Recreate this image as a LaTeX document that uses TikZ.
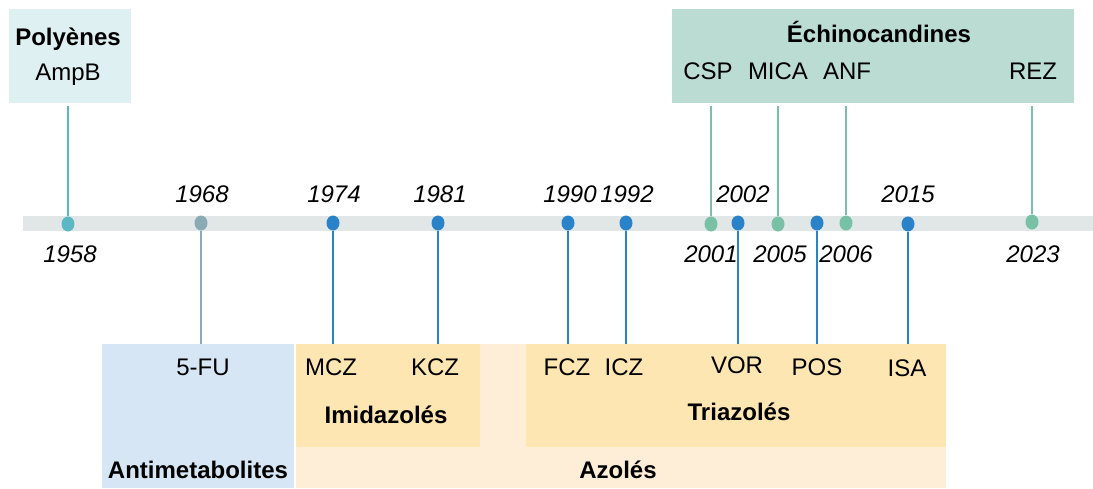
\documentclass[tikz,border=0pt]{standalone}
\usepackage{fontspec}
\setmainfont{Liberation Sans}
\usepackage{xcolor}
\usetikzlibrary{shapes.geometric}

\definecolor{barc}{HTML}{E1E6E6}
\definecolor{polyc}{HTML}{DFF0F2}
\definecolor{echic}{HTML}{BBDCD2}
\definecolor{antic}{HTML}{D6E6F4}
\definecolor{azolc}{HTML}{FEEED8}
\definecolor{subc}{HTML}{FEE6B2}
\definecolor{tealc}{HTML}{5BB8C4}
\definecolor{greyc}{HTML}{8AABB6}
\definecolor{bluec}{HTML}{2A82C8}
\definecolor{greenc}{HTML}{78C0A6}

\begin{document}
\begin{tikzpicture}[
        x=1pt, y=-1pt,
        font=\fontsize{24}{28}\selectfont,
        band/.style={anchor=north west, inner sep=0pt, outer sep=0pt},
        lbl/.style={anchor=base, inner sep=0pt},
        grp/.style={anchor=base, inner sep=0pt, font=\fontsize{24}{28}\selectfont\bfseries},
        yr/.style={anchor=base, inner sep=0pt, font=\fontsize{24}{28}\selectfont\itshape},
        pin/.style={ellipse, minimum width=13, minimum height=15, inner sep=0pt},
        stem/.style={line width=2pt}
    ]
        \useasboundingbox (0,0) rectangle (1093,488);
        % class boxes
        \node[band, fill=polyc, minimum width=122, minimum height=94] (poly) at (9,9) {};
        \node[band, fill=echic, minimum width=402, minimum height=94] (echi) at (672,9) {};
        \node[band, fill=antic, minimum width=192, minimum height=144] (anti) at (102,344) {};
        \node[band, fill=azolc, minimum width=650, minimum height=144] (azol) at (296,344) {};
        \node[band, fill=subc, minimum width=184, minimum height=103] (imid) at (296,344) {};
        \node[band, fill=subc, minimum width=420, minimum height=103] (tria) at (526,344) {};
        \node[band, fill=barc, minimum width=1070, minimum height=15] (bar) at (23,216) {};

        \node[grp] (tpoly) at (68,45) {Polyènes};
        \node[lbl] (ampb) at (68,80) {AmpB};
        \node[grp] (techi) at (879,42) {Échinocandines};
        \node[lbl] (csp) at (708,79) {CSP};
        \node[lbl] (mica) at (778,79) {MICA};
        \node[lbl] (anf) at (847,79) {ANF};
        \node[lbl] (rez) at (1033,79) {REZ};
        \node[lbl] (fu) at (203,375) {5-FU};
        \node[lbl] (mcz) at (331,375) {MCZ};
        \node[lbl] (kcz) at (435,375) {KCZ};
        \node[lbl] (fcz) at (567,375) {FCZ};
        \node[lbl] (icz) at (624,375) {ICZ};
        \node[lbl] (vor) at (737,373) {VOR};
        \node[lbl] (pos) at (817,375) {POS};
        \node[lbl] (isa) at (907,376) {ISA};
        \node[grp] (timid) at (386,423) {Imidazolés};
        \node[grp] (ttria) at (739,420) {Triazolés};
        \node[grp] (tanti) at (198,478) {Antimetabolites};
        \node[grp] (tazol) at (618,478) {Azolés};

        % dots on the time bar
        \node[pin, fill=tealc] (d1958) at (68,224) {};
        \node[pin, fill=greyc] (d1968) at (201,223) {};
        \node[pin, fill=bluec] (d1974) at (333,223) {};
        \node[pin, fill=bluec] (d1981) at (438,223) {};
        \node[pin, fill=bluec] (d1990) at (568,223) {};
        \node[pin, fill=bluec] (d1992) at (626,223) {};
        \node[pin, fill=greenc] (d2001) at (711,224) {};
        \node[pin, fill=bluec] (d2002) at (738,223) {};
        \node[pin, fill=greenc] (d2005) at (778,224) {};
        \node[pin, fill=bluec] (d2006) at (817,223) {};
        \node[pin, fill=greenc] (d2006b) at (846,223) {};
        \node[pin, fill=bluec] (d2015) at (908,224) {};
        \node[pin, fill=greenc] (d2023) at (1032,222) {};

        \node[yr] at (70,262) {1958};
        \node[yr] at (202,202) {1968};
        \node[yr] at (334,202) {1974};
        \node[yr] at (440,202) {1981};
        \node[yr] at (570,202) {1990};
        \node[yr] at (627,202) {1992};
        \node[yr] at (711,262) {2001};
        \node[yr] at (743,202) {2002};
        \node[yr] at (780,262) {2005};
        \node[yr] at (846,262) {2006};
        \node[yr] at (908,202) {2015};
        \node[yr] at (1033,262) {2023};

        % stems
        \draw[stem, tealc, shorten >=3pt] (d1958.north) -- (d1958.north |- poly.south);
        \draw[stem, greyc] (d1968.south) -- (d1968.south |- anti.north);
        \draw[stem, bluec] (d1974.south) -- (d1974.south |- imid.north);
        \draw[stem, bluec] (d1981.south) -- (d1981.south |- imid.north);
        \draw[stem, bluec] (d1990.south) -- (d1990.south |- tria.north);
        \draw[stem, bluec] (d1992.south) -- (d1992.south |- tria.north);
        \draw[stem, bluec] (d2002.south) -- (d2002.south |- tria.north);
        \draw[stem, bluec] (d2006.south) -- (d2006.south |- tria.north);
        \draw[stem, bluec] (d2015.south) -- (d2015.south |- tria.north);
        \draw[stem, greenc, shorten >=3pt] (d2001.north) -- (d2001.north |- echi.south);
        \draw[stem, greenc, shorten >=3pt] (d2005.north) -- (d2005.north |- echi.south);
        \draw[stem, greenc, shorten >=3pt] (d2006b.north) -- (d2006b.north |- echi.south);
        \draw[stem, greenc, shorten >=3pt] (d2023.north) -- (d2023.north |- echi.south);
    \end{tikzpicture}
\end{document}
